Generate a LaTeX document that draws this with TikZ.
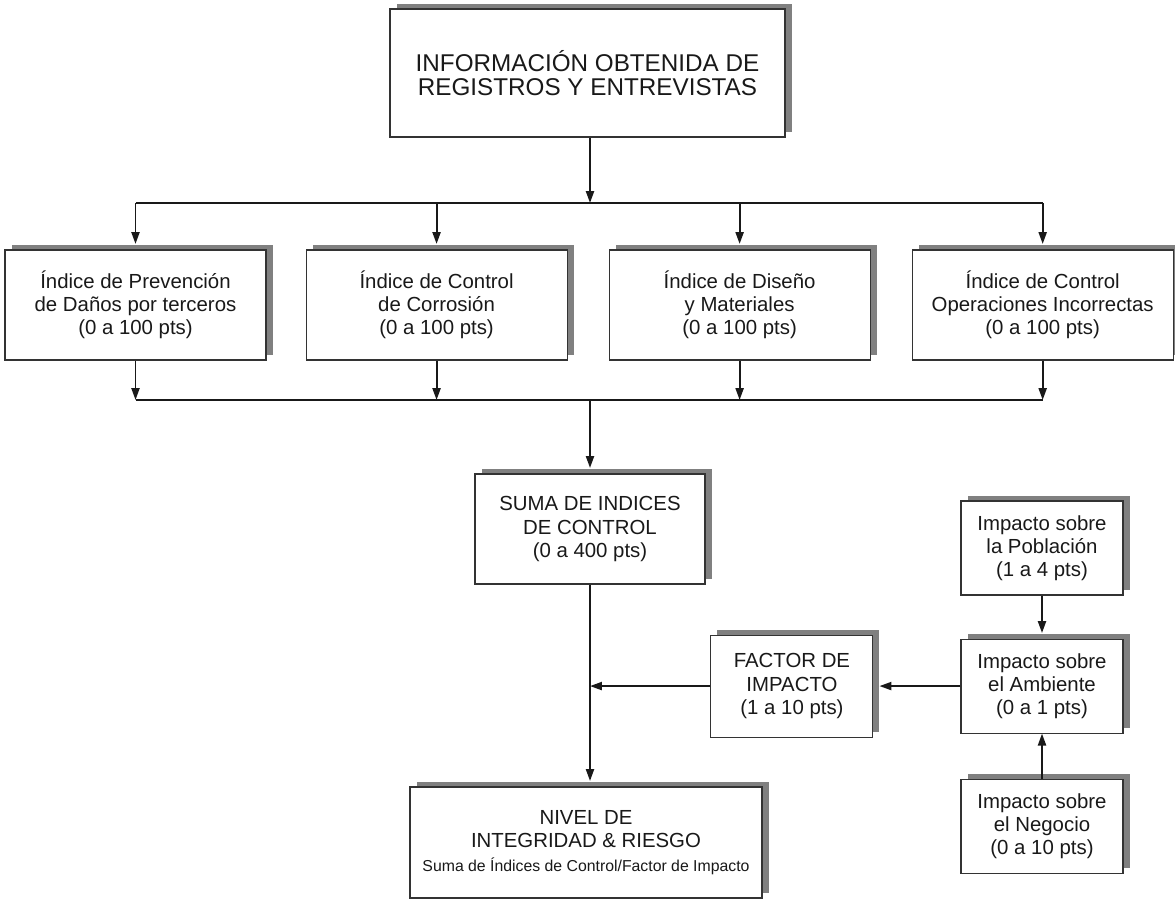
\documentclass[tikz,border=0pt]{standalone}
\usepackage{fontspec}
\setmainfont{Liberation Sans}
\usetikzlibrary{arrows.meta, positioning, shadows}

\begin{document}
\begin{tikzpicture}[
    box/.style={draw=black!80, line width=0.6pt, fill=white, align=center,
                inner sep=2pt, text=black!90,
                font=\fontsize{11.6}{13.2}\selectfont,
                general shadow={fill=black!50, shadow xshift=0.13cm, shadow yshift=0.11cm}},
    idxbox/.style={box, minimum width=5.22cm, minimum height=2.2cm},
    impbox/.style={box, minimum width=3.24cm, minimum height=1.88cm},
    link/.style={line width=1.1pt, draw=black!90},
    bus/.style={line width=1.6pt, draw=black!90},
    into/.style={shorten >=0.11cm},
    >={Triangle[width=4.6pt, length=6.8pt]},
    node distance=0.8cm
  ]
  \useasboundingbox (0,0) rectangle (23.5,-17.98);

  % Source of data
  \node[box, minimum width=7.9cm, minimum height=2.56cm,
        font=\fontsize{13.8}{13.4}\selectfont] (info) at (11.75,-1.46)
        {INFORMACIÓN OBTENIDA DE\\REGISTROS Y ENTREVISTAS};

  % Index layer
  \node[idxbox] (idx1) at (2.71,-6.1) {Índice de Prevención\\de Daños por terceros\\(0 a 100 pts)};
  \node[idxbox, right=0.78cm of idx1] (idx2) {Índice de Control\\de Corrosión\\(0 a 100 pts)};
  \node[idxbox, right=0.82cm of idx2] (idx3) {Índice de Diseño\\y Materiales\\(0 a 100 pts)};
  \node[idxbox, right=0.82cm of idx3] (idx4) {Índice de Control\\Operaciones Incorrectas\\(0 a 100 pts)};

  % Sum and result
  \node[box, minimum width=4.6cm, minimum height=2.2cm] (suma) at (11.8,-10.58)
        {SUMA DE INDICES\\DE CONTROL\\(0 a 400 pts)};
  \node[box, minimum width=7.04cm, minimum height=2.22cm] (nivel) at (11.72,-16.85)
        {NIVEL DE\\INTEGRIDAD \& RIESGO\\{\fontsize{9}{11}\selectfont Suma de Índices de Control/Factor de Impacto}};

  % Impact column
  \node[impbox] (pob) at (20.84,-10.96) {Impacto sobre\\la Población\\(1 a 4 pts)};
  \node[impbox, below=0.86cm of pob] (amb) {Impacto sobre\\el Ambiente\\(0 a 1 pts)};
  \node[impbox, below=0.9cm of amb] (neg) {Impacto sobre\\el Negocio\\(0 a 10 pts)};
  \node[box, minimum width=3.24cm, minimum height=2.04cm, left=1.74cm of amb] (factor)
        {FACTOR DE\\IMPACTO\\(1 a 10 pts)};

  % Buses
  \coordinate (bustop) at (11.8,-4.06);
  \coordinate (busbot) at (11.8,-8.0);
  \draw[bus] (bustop -| idx1) -- (bustop -| idx4);
  \draw[bus] (busbot -| idx1) -- (busbot -| idx4);

  % Arrows
  \draw[link, ->] (info.south -| bustop) -- (bustop);
  \foreach \i in {1,...,4} {
    \draw[link, ->, into] (bustop -| idx\i) -- (idx\i.north);
    \draw[link, ->] (idx\i.south) -- (busbot -| idx\i);
  }
  \draw[link, ->, into] (busbot) -- (suma.north);
  \draw[link, ->, into] (suma.south) -- (suma.south |- nivel.north);
  \draw[link, ->] (factor.west) -- (factor.west -| suma.south);
  \draw[link, ->, shorten >=0.12cm] (amb.west) -- (factor.east);
  \draw[link, ->, into] (pob.south) -- (amb.north);
  \draw[link, ->] (neg.north) -- (amb.south);
\end{tikzpicture}
\end{document}
